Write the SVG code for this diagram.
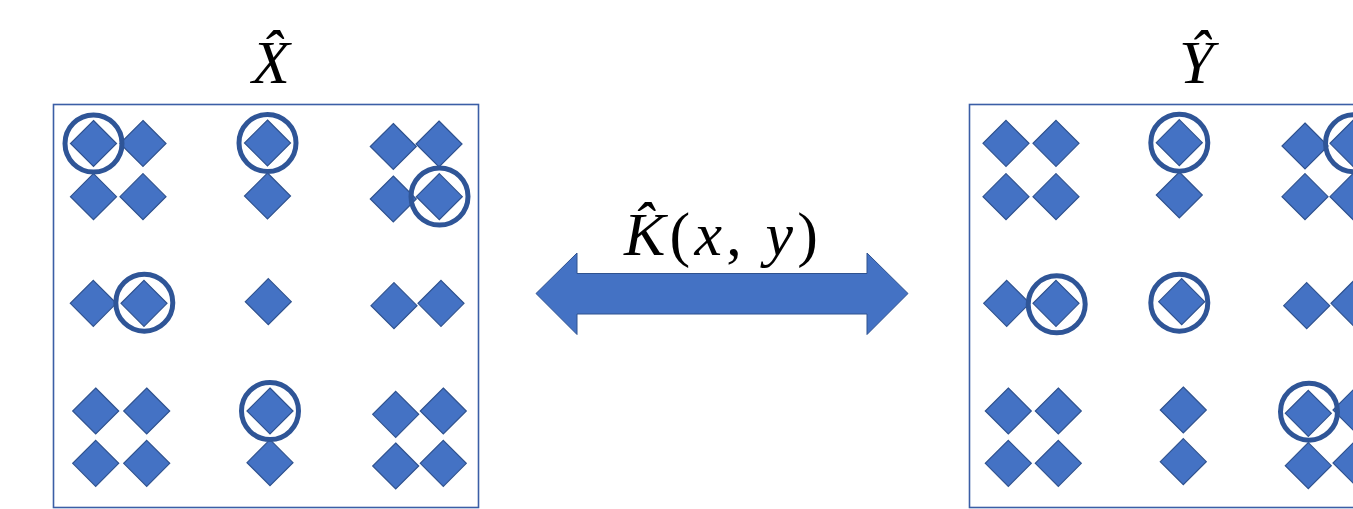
<svg xmlns="http://www.w3.org/2000/svg" xmlns:xlink="http://www.w3.org/1999/xlink" width="1353" height="509" viewBox="0 0 1353 509">
<style>
.box{fill:#fff;stroke:#3B5EA6;stroke-width:1.6}
.dm{fill:#4472C4;stroke:#2F528F;stroke-width:1.2}
.ring{fill:none;stroke:#2F5597;stroke-width:5}
.lbl{font-family:"Liberation Serif","DejaVu Serif",serif;font-size:62px;fill:#000}
.it{font-style:italic}
.arrow{fill:#4472C4;stroke:#2F528F;stroke-width:1}
</style>
<defs>
<path id="d" class="dm" d="M0,-23 L23,0 L0,23 L-23,0 Z"/>
</defs>
<rect width="1353" height="509" fill="#fff"/>

<g id="box-x">
<rect class="box" x="53.5" y="104.5" width="425" height="403"/>
<use href="#d" x="93.5" y="143.5"/><use href="#d" x="143" y="143.5"/>
<use href="#d" x="93.5" y="196.7"/><use href="#d" x="143" y="196.7"/>
<circle class="ring" cx="93.5" cy="143.5" r="28.5"/>
<use href="#d" x="267.5" y="143"/><use href="#d" x="267.5" y="196"/>
<circle class="ring" cx="267.5" cy="143" r="28.5"/>
<use href="#d" x="393.3" y="146.5"/><use href="#d" x="439" y="144"/>
<use href="#d" x="393.3" y="199"/><use href="#d" x="439.3" y="196.7"/>
<circle class="ring" cx="439.5" cy="196.5" r="28.5"/>
<use href="#d" x="93.3" y="303.3"/><use href="#d" x="144" y="303.3"/>
<circle class="ring" cx="144.3" cy="302.7" r="28.5"/>
<use href="#d" x="268.3" y="301.7"/>
<use href="#d" x="394" y="305.7"/><use href="#d" x="441" y="303.3"/>
<use href="#d" x="95.7" y="411"/><use href="#d" x="146.7" y="411"/>
<use href="#d" x="95.7" y="463.3"/><use href="#d" x="146.7" y="463.3"/>
<use href="#d" x="270" y="411"/><use href="#d" x="270" y="462.7"/>
<circle class="ring" cx="270" cy="411" r="28.5"/>
<use href="#d" x="395.7" y="414.3"/><use href="#d" x="443.3" y="411"/>
<use href="#d" x="395.7" y="466"/><use href="#d" x="443.3" y="463.3"/>
</g>

<g id="box-y">
<rect class="box" x="969.5" y="104.5" width="420" height="403"/>
<use href="#d" x="1006" y="143.3"/><use href="#d" x="1056" y="143.3"/>
<use href="#d" x="1006" y="196.7"/><use href="#d" x="1056" y="196.7"/>
<use href="#d" x="1179.3" y="142.7"/><use href="#d" x="1179.3" y="195"/>
<circle class="ring" cx="1179.3" cy="142.7" r="28.5"/>
<use href="#d" x="1305" y="146"/><use href="#d" x="1353" y="143.3"/>
<use href="#d" x="1305" y="196.7"/><use href="#d" x="1353" y="196.7"/>
<circle class="ring" cx="1354" cy="143.3" r="28.5"/>
<use href="#d" x="1006.7" y="303.3"/><use href="#d" x="1056" y="303.3"/>
<circle class="ring" cx="1056.7" cy="304.3" r="28.5"/>
<use href="#d" x="1181.7" y="301.7"/>
<circle class="ring" cx="1179.3" cy="302.7" r="28.5"/>
<use href="#d" x="1306.7" y="305.7"/><use href="#d" x="1354" y="303.3"/>
<use href="#d" x="1008.3" y="411"/><use href="#d" x="1058.3" y="411"/>
<use href="#d" x="1008.3" y="463.3"/><use href="#d" x="1058.3" y="463.3"/>
<use href="#d" x="1183.3" y="410"/><use href="#d" x="1183.3" y="461.7"/>
<use href="#d" x="1356" y="410"/>
<use href="#d" x="1308.3" y="413.3"/>
<circle class="ring" cx="1309" cy="411.7" r="28.5"/>
<use href="#d" x="1308.3" y="465.7"/><use href="#d" x="1356" y="463"/>
</g>

<g id="label-x"><text class="lbl it" x="252" y="83">X̂</text></g>
<g id="label-y"><text class="lbl it" x="1179" y="83">Ŷ</text></g>

<g id="connectors">
<path class="arrow" d="M536,293.5 L577,253 L577,273.5 L867,273.5 L867,253 L908,293.5 L867,334.5 L867,314 L577,314 L577,334.5 Z"/>
<text class="lbl" x="624" y="255" textLength="194" lengthAdjust="spacing"><tspan class="it">K̂</tspan>(<tspan class="it">x</tspan>, <tspan class="it">y</tspan>)</text>
</g>
</svg>
